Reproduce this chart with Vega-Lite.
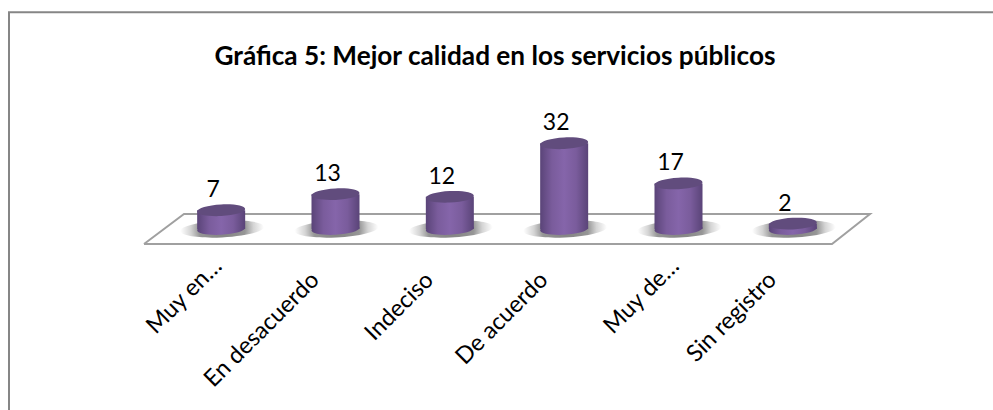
{"$schema":"https://vega.github.io/schema/vega-lite/v6.json","width":993,"height":410,"padding":0,"autosize":{"type":"none"},"background":"white","config":{"view":{"stroke":null},"font":"Lato"},
"datasets":{"bars":[{"cat":"Muy en…","v":7},{"cat":"En desacuerdo","v":13},{"cat":"Indeciso","v":12},{"cat":"De acuerdo","v":32},{"cat":"Muy de…","v":17},{"cat":"Sin registro","v":2}],
"floor":[{"px":144,"fy":-5.6,"o":0},{"px":184,"fy":5.6,"o":1},{"px":870,"fy":5.6,"o":2},{"px":832,"fy":-5.6,"o":3},{"px":144,"fy":-5.6,"o":4}],
"frame":[{"px":9,"fy":-67.5,"o":0},{"px":9,"fy":80.9,"o":1},{"px":993,"fy":80.9,"o":2}],
"title":[{"px":495,"fy":64.3,"t":"Gráfica 5: Mejor calidad en los servicios públicos"}]},
"layer":[
{"data":{"name":"frame"},"mark":{"type":"line","color":"#868686","strokeWidth":2},"encoding":{"x":{"field":"px","type":"quantitative","scale":{"domain":[0,993]},"axis":null},"y":{"field":"fy","type":"quantitative","scale":{"domain":[-67.54,85.45],"nice":false,"zero":false},"axis":null},"order":{"field":"o"}}},
{"data":{"name":"floor"},"mark":{"type":"line","color":"#a0a0a0","strokeWidth":2},"encoding":{"x":{"field":"px","type":"quantitative","scale":{"domain":[0,993]},"axis":null},"y":{"field":"fy","type":"quantitative"},"order":{"field":"o"}}},
{"data":{"name":"title"},"mark":{"type":"text","fontSize":26.2,"fontWeight":"bold","color":"#000000","font":"Lato"},"encoding":{"text":{"field":"t"},"x":{"field":"px","type":"quantitative","scale":{"domain":[0,993]},"axis":null},"y":{"field":"fy","type":"quantitative"}}},
{"data":{"name":"bars"},"layer":[
{"mark":{"type":"point","filled":true,"shape":"M-1,0.05 A1,0.2,-3,1,1,1,-0.05 A1,0.2,-3,1,1,-1,0.05 Z","size":7000,"opacity":1,"xOffset":1,"yOffset":0,"fill":{"gradient":"radial","x1":0.5,"y1":0.5,"x2":0.5,"y2":0.5,"r1":0,"r2":0.5,"stops":[{"offset":0,"color":"#808080"},{"offset":0.55,"color":"#969696"},{"offset":0.75,"color":"#d4d4d4"},{"offset":1,"color":"#ffffff"}]}},"encoding":{"x":{"field":"cat","type":"nominal","sort":null,"scale":{"range":[164,850],"paddingInner":0,"paddingOuter":0},"axis":{"title":null,"orient":"bottom","offset":-161,"domain":false,"ticks":false,"grid":false,"labelAngle":-45,"labelAlign":"right","labelBaseline":"middle","labelFontSize":23.5,"labelColor":"#000000","labelFont":"Lato","labelPadding":{"condition":{"test":"indexof(datum.label,'…')>=0","value":13},"value":27},"labelOffset":{"condition":{"test":"indexof(datum.label,'…')>=0","value":-3},"value":-20},"labelLimit":300}},"y":{"datum":0,"type":"quantitative"}}},
{"mark":{"type":"bar","size":48,"fill":{"gradient":"linear","x1":0,"y1":0,"x2":1,"y2":0,"stops":[{"offset":0,"color":"#5a4478"},{"offset":0.25,"color":"#7a5c9c"},{"offset":0.5,"color":"#8565aa"},{"offset":0.75,"color":"#7a5c9c"},{"offset":1,"color":"#5a4478"}]}},"encoding":{"x":{"field":"cat","type":"nominal","sort":null},"y":{"field":"v","type":"quantitative"},"y2":{"datum":0}}},
{"mark":{"type":"point","filled":true,"shape":"M-1,0.05 A1,0.24,-3,1,1,1,-0.05 A1,0.24,-3,1,1,-1,0.05 Z","size":2304,"opacity":1,"fill":{"gradient":"linear","x1":0,"y1":0,"x2":1,"y2":0,"stops":[{"offset":0,"color":"#5a4478"},{"offset":0.25,"color":"#7a5c9c"},{"offset":0.5,"color":"#8565aa"},{"offset":0.75,"color":"#7a5c9c"},{"offset":1,"color":"#5a4478"}]}},"encoding":{"x":{"field":"cat","type":"nominal","sort":null},"y":{"datum":0,"type":"quantitative"}}},
{"mark":{"type":"point","filled":true,"shape":"M-1,0.05 A1,0.24,-3,1,1,1,-0.05 A1,0.24,-3,1,1,-1,0.05 Z","size":2304,"opacity":1,"fill":"#614c7d"},"encoding":{"x":{"field":"cat","type":"nominal","sort":null},"y":{"field":"v","type":"quantitative"}}},
{"mark":{"type":"text","fontSize":23,"color":"#000000","font":"Lato","dy":-20,"xOffset":-8},"encoding":{"text":{"field":"v","type":"quantitative"},"x":{"field":"cat","type":"nominal","sort":null},"y":{"field":"v","type":"quantitative"}}}
]}
],
"resolve":{"scale":{"x":"independent","y":"shared"}}}
